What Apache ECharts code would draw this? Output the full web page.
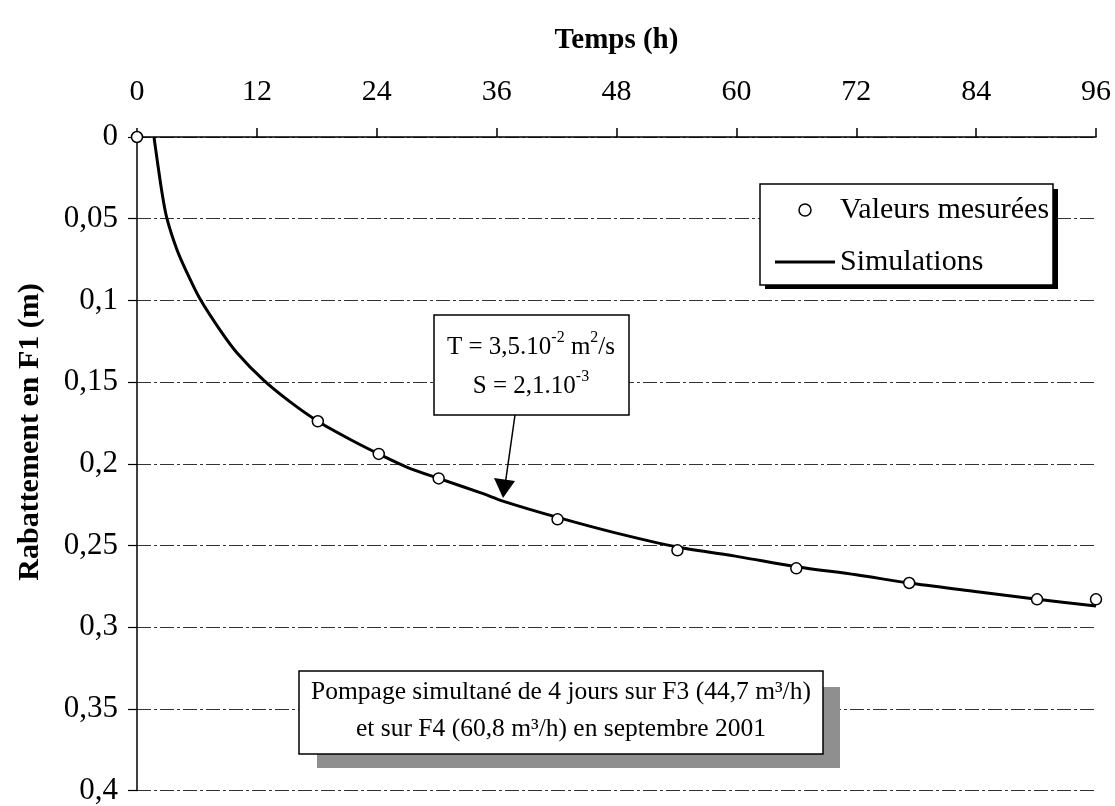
<!DOCTYPE html>
<html>
<head>
<meta charset="utf-8">
<script src="https://cdn.jsdelivr.net/npm/echarts@6/dist/echarts.min.js"></script>
<style>html,body{margin:0;padding:0;background:#fff}#c{width:1115px;height:806px}</style>
</head>
<body>
<div id="c"></div>
<script>
// Time axis ticks (h)
const xTicks = [0, 12, 24, 36, 48, 60, 72, 84, 96];
const yTicks = [0, 0.05, 0.1, 0.15, 0.2, 0.25, 0.3, 0.35, 0.4];
// Measured drawdown (Valeurs mesurées)
const measT = [0, 18.1, 24.2, 30.2, 42.1, 54.1, 66.0, 77.3, 90.1, 96.0];
const measS = [0, 0.174, 0.194, 0.209, 0.234, 0.253, 0.264, 0.273, 0.283, 0.283];
// Simulated drawdown (Simulations)
const simT = [1.7, 2.5, 3, 4, 5, 6.3, 8.3, 10, 12.7, 15.3, 18.1, 21.3, 24.2, 27, 30.2, 34.5, 36.7, 42.2, 47.7, 54.1, 60.3, 66, 72, 77.3, 83.7, 90.1, 96];
const simS = [0, 0.034, 0.05, 0.069, 0.083, 0.099, 0.118, 0.132, 0.149, 0.162, 0.174, 0.185, 0.194, 0.202, 0.209, 0.218, 0.223, 0.233, 0.242, 0.251, 0.257, 0.263, 0.268, 0.273, 0.278, 0.283, 0.287];

const FONT = '"Liberation Serif", "Times New Roman", serif';
const chart = echarts.init(document.getElementById('c'), null, {renderer: 'canvas'});

const meas = measT.map((t, i) => [t, measS[i]]);
const sim = simT.map((t, i) => [t, simS[i]]);

chart.setOption({
  animation: false,
  backgroundColor: '#fff',
  grid: {left: 137, right: 19, top: 137, bottom: 15, containLabel: false},
  xAxis: {
    type: 'value', position: 'top', min: 0, max: 96, interval: 12,
    name: 'Temps (h)', nameLocation: 'middle', nameGap: 82,
    nameTextStyle: {fontFamily: FONT, fontWeight: 'bold', fontSize: 29, color: '#000'},
    axisLine: {show: true, onZero: false, lineStyle: {color: '#000', width: 1.5}},
    axisTick: {show: true, inside: false, length: 9, lineStyle: {color: '#000', width: 1.5}},
    axisLabel: {fontFamily: FONT, fontSize: 30, color: '#000', margin: 30},
    splitLine: {show: false}
  },
  yAxis: {
    type: 'value', inverse: true, min: 0, max: 0.4, interval: 0.05,
    axisLine: {show: true, onZero: false, lineStyle: {color: '#000', width: 1.5}},
    axisTick: {show: true, inside: false, length: 9, lineStyle: {color: '#000', width: 1.2}},
    axisLabel: {fontFamily: FONT, fontSize: 31, color: '#000', margin: 19,
      formatter: v => String(Math.round(v * 100) / 100).replace('.', ',')},
    splitLine: {show: true, lineStyle: {color: '#333', width: 1, type: [14, 3, 3, 3]}}
  },
  legend: {
    left: 770, top: 190, orient: 'vertical', itemWidth: 60, itemHeight: 12, itemGap: 22,
    z: 20, selectedMode: false,
    textStyle: {fontFamily: FONT, fontSize: 30, color: '#000'},
    data: [
      {name: 'Valeurs mesurées', icon: 'circle',
        itemStyle: {color: '#fff', borderColor: '#000', borderWidth: 1.5}},
      {name: 'Simulations', icon: 'path://M0,0 L60,0 L60,3 L0,3 Z',
        itemStyle: {color: '#000', borderWidth: 0}}
    ]
  },
  series: [
    {
      name: 'Simulations', type: 'line', data: sim, smooth: 0.3, showSymbol: false, symbol: 'none',
      lineStyle: {color: '#000', width: 3}, itemStyle: {color: '#000'}, z: 3
    },
    {
      name: 'Valeurs mesurées', type: 'scatter', data: meas, symbol: 'circle', symbolSize: 11, clip: false,
      itemStyle: {color: '#fff', borderColor: '#000', borderWidth: 1.5, opacity: 1}, z: 5
    }
  ],
  graphic: [
    // Y axis title
    {type: 'text', x: 30, y: 432, rotation: Math.PI / 2, z: 10,
      style: {text: 'Rabattement en F1 (m)', font: 'bold 30px ' + FONT, fill: '#000', align: 'center', verticalAlign: 'middle'}},
    // Legend box with shadow
    {type: 'rect', z: 10, shape: {x: 765, y: 189, width: 293, height: 100}, style: {fill: '#000'}},
    {type: 'rect', z: 11, shape: {x: 760, y: 184, width: 293, height: 101}, style: {fill: '#fff', stroke: '#000', lineWidth: 1.5}},
    // Parameter box
    {type: 'rect', z: 11, shape: {x: 434, y: 315, width: 195, height: 100}, style: {fill: '#fff', stroke: '#000', lineWidth: 1.5}},
    {type: 'text', z: 12, x: 531, y: 345,
      style: {text: '{t|T = 3,5.10}{s|-2}{t| m}{s|2}{t|/s}', align: 'center', verticalAlign: 'middle',
        rich: {t: {font: '25px ' + FONT, fill: '#000', lineHeight: 30, verticalAlign: 'bottom'},
               s: {font: '16px ' + FONT, fill: '#000', lineHeight: 30, verticalAlign: 'top'}}}},
    {type: 'text', z: 12, x: 531, y: 384,
      style: {text: '{t|S = 2,1.10}{s|-3}', align: 'center', verticalAlign: 'middle',
        rich: {t: {font: '25px ' + FONT, fill: '#000', lineHeight: 30, verticalAlign: 'bottom'},
               s: {font: '16px ' + FONT, fill: '#000', lineHeight: 30, verticalAlign: 'top'}}}},
    // Arrow
    {type: 'line', z: 12, shape: {x1: 515, y1: 415, x2: 505.5, y2: 482}, style: {stroke: '#000', lineWidth: 1.5}},
    {type: 'polygon', z: 12, shape: {points: [[494, 478], [515, 481], [503, 498]]}, style: {fill: '#000'}},
    // Pumping note box with hatched-like shadow
    {type: 'rect', z: 10, shape: {x: 317, y: 687, width: 523, height: 81}, style: {fill: '#8f8f8f'}},
    {type: 'rect', z: 11, shape: {x: 299, y: 671, width: 524, height: 83}, style: {fill: '#fff', stroke: '#000', lineWidth: 1.5}},
    {type: 'text', z: 12, x: 561, y: 692,
      style: {text: 'Pompage simultané de 4 jours sur F3 (44,7 m³/h)', font: '25.5px ' + FONT, fill: '#000', align: 'center', verticalAlign: 'middle'}},
    {type: 'text', z: 12, x: 561, y: 729,
      style: {text: 'et sur F4 (60,8 m³/h) en septembre 2001', font: '25.5px ' + FONT, fill: '#000', align: 'center', verticalAlign: 'middle'}}
  ]
});
</script>
</body>
</html>
